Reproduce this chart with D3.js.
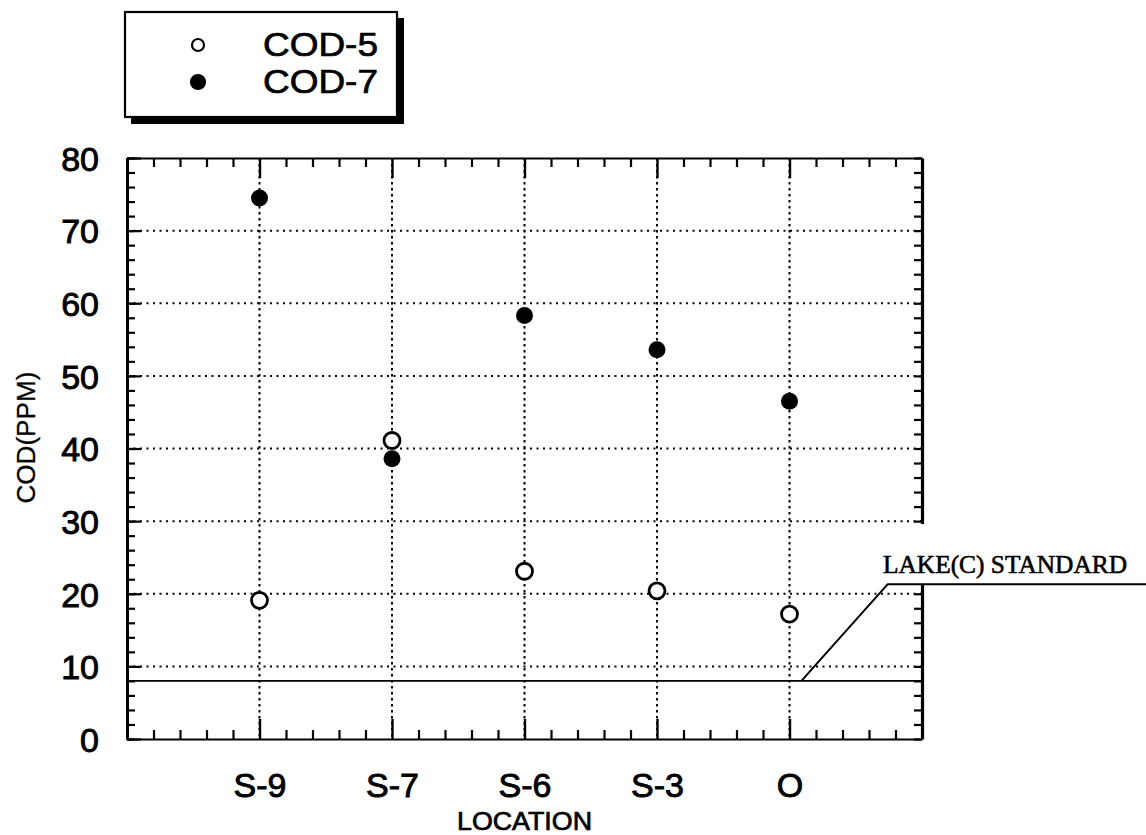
<!DOCTYPE html>
<html>
<head>
<meta charset="utf-8">
<script src="https://cdn.jsdelivr.net/npm/d3@7"></script>
<style>
  body { margin: 0; background: #fff; }
  svg { display: block; font-family: "Liberation Sans", Arial, sans-serif; }
</style>
</head>
<body>
<div id="chart"></div>
<script>
// Sampling locations, in order along the x axis
const locations = ["S-9", "S-7", "S-6", "S-3", "O"];

// COD readings (ppm)
const cod5 = [19.1, 41.1, 23.1, 20.4, 17.2];
const cod7 = [74.5, 38.6, 58.3, 53.6, 46.5];

const seriesNames = ["COD-5", "COD-7"];
const yMajorTicks = [0, 10, 20, 30, 40, 50, 60, 70, 80];
const yGridValues = [10, 20, 30, 40, 50, 60, 70];

// Lake (C) standard level
const lakeStandard = 8;
const lakeLabel = "LAKE(C) STANDARD";

const width = 1146;
const height = 835;

const svg = d3.select("#chart")
  .append("svg")
  .attr("width", width)
  .attr("height", height)
  .attr("viewBox", [0, 0, width, height]);

// Locations sit at 1..5, the frame spans 0..6
const x = d3.scaleLinear().domain([0, 6]).range([127, 922]);
const y = d3.scaleLinear().domain([0, 80]).range([739, 158]);

const xPos = (d, i) => x(i + 1);
const minorX = d3.range(0, 6.001, 0.2).filter(v => Math.abs(v - Math.round(v)) > 0.01);
const minorY = d3.range(0, 81, 2);

// Dotted grid
const grid = svg.append("g")
  .attr("stroke", "#000")
  .attr("stroke-width", 2)
  .attr("stroke-dasharray", "2,4.5");

grid.selectAll("line.h")
  .data(yGridValues)
  .join("line")
  .attr("class", "h")
  .attr("x1", x(0)).attr("x2", x(6))
  .attr("y1", d => y(d)).attr("y2", d => y(d));

grid.selectAll("line.v")
  .data(locations)
  .join("line")
  .attr("class", "v")
  .attr("stroke-dasharray", "2.5,3.5")
  .attr("x1", xPos).attr("x2", xPos)
  .attr("y1", y(80)).attr("y2", y(0));

// Lake standard line
svg.append("line")
  .attr("x1", x(0)).attr("x2", x(6))
  .attr("y1", y(lakeStandard)).attr("y2", y(lakeStandard))
  .attr("stroke", "#000")
  .attr("stroke-width", 1.7);

// Axes
function styleAxis(g, w) {
  g.select(".domain").attr("stroke-width", w);
  g.selectAll(".tick line").attr("stroke-width", 2.2);
}

const numStyle = sel => sel
  .attr("font-size", 34)
  .attr("font-family", "'Liberation Sans', Arial, sans-serif")
  .attr("fill", "#000")
  .attr("stroke", "#000")
  .attr("stroke-width", 0.9);

// left: minor + major ticks, labels
svg.append("g")
  .attr("transform", `translate(${x(0)},0)`)
  .call(d3.axisLeft(y).tickValues(minorY).tickSize(-8).tickSizeOuter(0).tickFormat(""))
  .call(g => styleAxis(g, 3));

svg.append("g")
  .attr("transform", `translate(${x(0)},0)`)
  .call(d3.axisLeft(y).tickValues(yMajorTicks).tickSize(-14).tickSizeOuter(0).tickPadding(28))
  .call(g => styleAxis(g, 3))
  .call(g => g.selectAll("text").call(numStyle).attr("dy", "0.36em"));

// right
svg.append("g")
  .attr("transform", `translate(${x(6)},0)`)
  .call(d3.axisRight(y).tickValues(minorY).tickSize(-8).tickSizeOuter(0).tickFormat(""))
  .call(g => styleAxis(g, 3.2));

// top
svg.append("g")
  .attr("transform", `translate(0,${y(80)})`)
  .call(d3.axisTop(x).tickValues(minorX).tickSize(-9).tickSizeOuter(0).tickFormat(""))
  .call(g => styleAxis(g, 2));

svg.append("g")
  .attr("transform", `translate(0,${y(80)})`)
  .call(d3.axisTop(x).tickValues(d3.range(1, 6)).tickSize(-20).tickSizeOuter(0).tickFormat(""))
  .call(g => g.select(".domain").remove())
  .call(g => g.selectAll(".tick line").attr("stroke-width", 2.4));

// bottom
svg.append("g")
  .attr("transform", `translate(0,${y(0)})`)
  .call(d3.axisBottom(x).tickValues(minorX).tickSize(-9).tickSizeOuter(0).tickFormat(""))
  .call(g => styleAxis(g, 2));

svg.append("g")
  .attr("transform", `translate(0,${y(0)})`)
  .call(d3.axisBottom(x).tickValues(d3.range(1, 6)).tickSize(-20).tickSizeOuter(0)
    .tickFormat(d => locations[d - 1]))
  .call(g => g.select(".domain").remove())
  .call(g => g.selectAll(".tick line").attr("stroke-width", 2.4))
  .call(g => g.selectAll("text").call(numStyle).attr("y", 58).attr("dy", null));

// gap in the right frame behind the label
svg.append("rect")
  .attr("x", x(6) - 10)
  .attr("y", y(29.6))
  .attr("width", 20)
  .attr("height", y(21.2) - y(29.6))
  .attr("fill", "#fff");

// Axis titles
svg.append("text")
  .attr("transform", `translate(35,${y(41.5)}) rotate(-90)`)
  .attr("text-anchor", "middle")
  .attr("font-size", 25)
  .attr("stroke", "#000")
  .attr("stroke-width", 0.3)
  .attr("textLength", 132)
  .attr("lengthAdjust", "spacingAndGlyphs")
  .text("COD(PPM)");

svg.append("text")
  .attr("x", x(3))
  .attr("y", 830)
  .attr("text-anchor", "middle")
  .attr("font-size", 25)
  .attr("stroke", "#000")
  .attr("stroke-width", 0.7)
  .attr("textLength", 135)
  .attr("lengthAdjust", "spacingAndGlyphs")
  .text("LOCATION");

// Points
svg.append("g")
  .selectAll("circle")
  .data(cod7)
  .join("circle")
  .attr("cx", xPos)
  .attr("cy", d => y(d))
  .attr("r", 8.5)
  .attr("fill", "#000");

svg.append("g")
  .selectAll("circle")
  .data(cod5)
  .join("circle")
  .attr("cx", xPos)
  .attr("cy", d => y(d))
  .attr("r", 8)
  .attr("fill", "#fff")
  .attr("stroke", "#000")
  .attr("stroke-width", 2.8);

// Lake standard callout
const callout = [[5.09, lakeStandard], [5.74, 21.3]];
svg.append("polyline")
  .attr("points", [...callout.map(([a, b]) => [x(a), y(b)]), [width, y(21.3)]].join(" "))
  .attr("fill", "none")
  .attr("stroke", "#000")
  .attr("stroke-width", 2)
  .attr("stroke-linejoin", "round");

svg.append("text")
  .attr("x", 883)
  .attr("y", 573)
  .attr("font-family", "'Liberation Serif', 'Times New Roman', serif")
  .attr("font-size", 26)
  .attr("stroke", "#000")
  .attr("stroke-width", 0.6)
  .attr("textLength", 244)
  .attr("lengthAdjust", "spacingAndGlyphs")
  .text(lakeLabel);

// Legend box with drop shadow
const legend = svg.append("g");
legend.append("rect")
  .attr("x", 131).attr("y", 18)
  .attr("width", 273).attr("height", 106)
  .attr("fill", "#000");
legend.append("rect")
  .attr("x", 125).attr("y", 12)
  .attr("width", 272).attr("height", 105)
  .attr("fill", "#fff")
  .attr("stroke", "#000")
  .attr("stroke-width", 2.2);

const legendRows = legend.selectAll("g.row")
  .data(seriesNames)
  .join("g")
  .attr("class", "row")
  .attr("transform", (d, i) => `translate(0,${45 + i * 37})`);

legendRows.append("circle")
  .attr("cx", 198)
  .attr("r", (d, i) => i === 0 ? 6 : 7)
  .attr("fill", (d, i) => i === 0 ? "#fff" : "#000")
  .attr("stroke", "#000")
  .attr("stroke-width", 2.2);

legendRows.append("text")
  .attr("x", 263)
  .attr("y", 11)
  .attr("font-size", 33)
  .attr("stroke", "#000")
  .attr("stroke-width", 0.7)
  .attr("textLength", 115)
  .attr("lengthAdjust", "spacingAndGlyphs")
  .text(d => d);
</script>
</body>
</html>
